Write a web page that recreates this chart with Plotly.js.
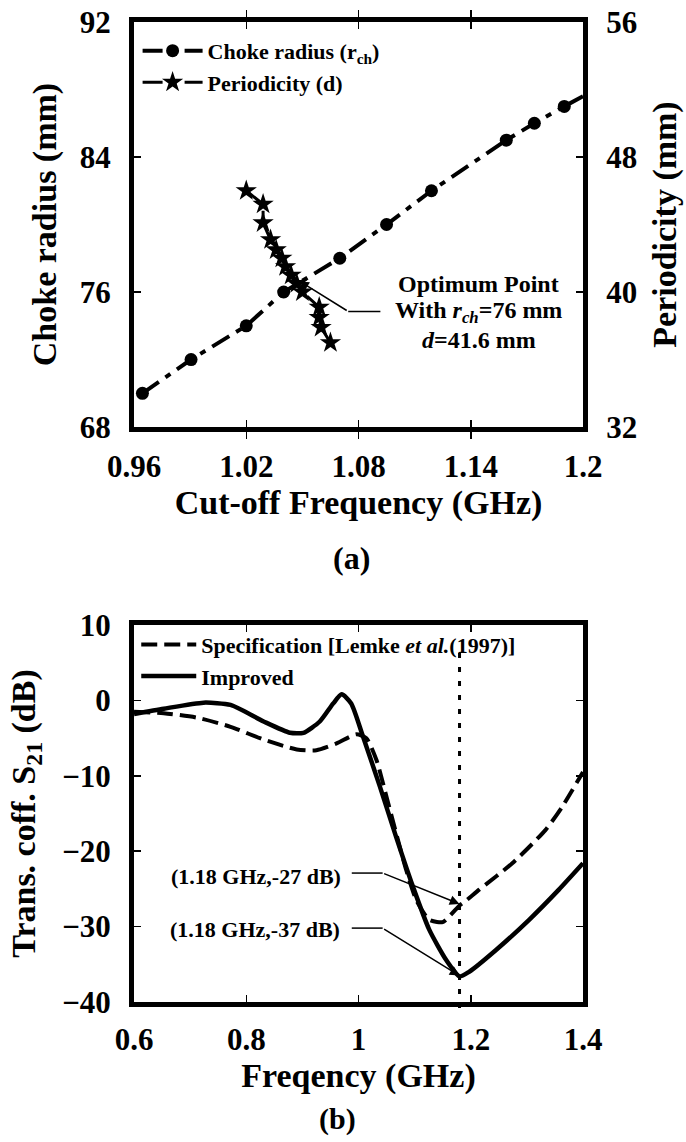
<!DOCTYPE html>
<html>
<head>
<meta charset="utf-8">
<script src="https://cdn.plot.ly/plotly-3.0.1.min.js"></script>
<style>html,body{margin:0;padding:0;background:#fff;}#chart{width:686px;height:1142px;}</style>
</head>
<body>
<div id="chart"></div>
<script>
// ---- Panel (a): cut-off frequency vs choke radius / periodicity ----
const chokeFreq   = [0.9645, 0.9905, 1.020, 1.040, 1.070, 1.095, 1.119, 1.159, 1.174, 1.190];
const chokeRadius = [70.0, 72.0, 74.0, 76.0, 78.0, 80.0, 82.0, 85.0, 86.0, 87.0];
// line continues past the last marker to the frame
const chokeTailFreq   = [1.190, 1.200];
const chokeTailRadius = [87.0, 87.6];

const periodFreq  = [1.020, 1.029, 1.029, 1.033, 1.036, 1.039, 1.041, 1.044, 1.047, 1.050, 1.059, 1.059, 1.060, 1.065];
const periodicity = [46.0, 45.2, 44.1, 43.1, 42.5, 42.0, 41.5, 41.0, 40.5, 40.0, 39.1, 38.5, 37.9, 37.0];

const xTicksA = [0.96, 1.02, 1.08, 1.14, 1.2];
const xTickTextA = ['0.96', '1.02', '1.08', '1.14', '1.2'];
const yTicksA = [68, 76, 84, 92];
const y2TicksA = [32, 40, 48, 56];

// ---- Panel (b): transmission coefficient S21 ----
const improvedFreq = [0.6, 0.653, 0.724, 0.772, 0.831, 0.878, 0.902, 0.931, 0.955, 0.970, 0.987, 1.008, 1.038, 1.067, 1.097, 1.126, 1.156, 1.18, 1.197, 1.245, 1.304, 1.357, 1.4];
const improvedS21  = [-1.8, -1.1, -0.3, -0.6, -2.8, -4.3, -4.3, -2.8, -0.4, 0.8, -0.4, -4.8, -11.4, -18.1, -24.7, -30.4, -34.4, -36.6, -36.0, -33.1, -29.1, -25.1, -21.6];

const specFreq = [0.6, 0.653, 0.713, 0.772, 0.831, 0.89, 0.925, 0.961, 0.996, 1.014, 1.032, 1.050, 1.067, 1.085, 1.103, 1.126, 1.15, 1.18, 1.191, 1.215, 1.274, 1.333, 1.363, 1.4];
const specS21  = [-1.5, -1.7, -2.3, -3.5, -5.2, -6.5, -6.6, -5.7, -4.5, -5.0, -7.9, -12.8, -17.6, -22.5, -26.5, -29.1, -29.4, -27.2, -26.6, -25.1, -21.6, -17.2, -14.1, -9.5];

const xTicksB = [0.6, 0.8, 1.0, 1.2, 1.4];
const xTickTextB = ['0.6', '0.8', '1', '1.2', '1.4'];
const yTicksB = [-40, -30, -20, -10, 0, 10];

const markFreq = 1.18;

const FONT = 'Liberation Serif, Times New Roman, Times, serif';
const DASHDOT = '20px,8px,6px,8px';

const traces = [
  {
    x: chokeTailFreq, y: chokeTailRadius, xaxis: 'x', yaxis: 'y',
    mode: 'lines', showlegend: false, hoverinfo: 'skip',
    line: {color: '#000', width: 4}
  },
  {
    x: chokeFreq, y: chokeRadius, xaxis: 'x', yaxis: 'y',
    mode: 'lines+markers', name: 'Choke radius (r<sub>ch</sub>)',
    line: {color: '#000', width: 4, dash: DASHDOT},
    marker: {symbol: 'circle', size: 13, color: '#000', opacity: 1, line: {width: 0}},
    legend: 'legend'
  },
  {
    x: periodFreq, y: periodicity, xaxis: 'x', yaxis: 'y2',
    mode: 'lines+markers', name: 'Periodicity (d)',
    line: {color: '#000', width: 3, dash: DASHDOT},
    marker: {symbol: 'star', size: 16, color: '#000', opacity: 1, line: {width: 0}},
    legend: 'legend'
  },
  {
    x: specFreq, y: specS21, xaxis: 'x2', yaxis: 'y3',
    mode: 'lines', name: 'Specification [Lemke <i>et al.</i>(1997)]',
    line: {color: '#000', width: 4, dash: '16px,7px', shape: 'spline', smoothing: 0.6},
    legend: 'legend2'
  },
  {
    x: improvedFreq, y: improvedS21, xaxis: 'x2', yaxis: 'y3',
    mode: 'lines', name: 'Improved',
    line: {color: '#000', width: 4.5, shape: 'spline', smoothing: 0.6},
    legend: 'legend2'
  }
];

const axisCommon = {
  showline: true, linecolor: '#000', linewidth: 5,
  ticks: 'inside', ticklen: 7, tickwidth: 1.5, tickcolor: '#000',
  showgrid: false, zeroline: false, fixedrange: true,
  tickfont: {size: 31, family: FONT, weight: 'bold', color: '#000'}
};
const titleFont = {size: 34, family: FONT, weight: 'bold', color: '#000'};

const layout = {
  width: 686, height: 1142,
  margin: {l: 134, r: 103, t: 22, b: 140},
  paper_bgcolor: '#fff', plot_bgcolor: '#fff',
  font: {family: FONT, color: '#000', weight: 'bold', size: 22},
  showlegend: true,
  xaxis: Object.assign({}, axisCommon, {
    domain: [0, 1], anchor: 'y', range: [0.96, 1.2],
    tickvals: xTicksA, ticktext: xTickTextA, mirror: 'allticks',
    ticklabelstandoff: 8,
    title: {text: 'Cut-off Frequency (GHz)', font: titleFont, standoff: 8}
  }),
  yaxis: Object.assign({}, axisCommon, {
    domain: [0.5867, 1], anchor: 'x', range: [68, 92],
    tickvals: yTicksA, mirror: 'allticks', ticklabelstandoff: 12,
    title: {text: 'Choke radius (mm)', font: titleFont, standoff: 14}
  }),
  yaxis2: Object.assign({}, axisCommon, {
    overlaying: 'y', side: 'right', anchor: 'x', range: [32, 56],
    tickvals: y2TicksA, ticklabelstandoff: 12,
    title: {text: 'Periodicity (mm)', font: titleFont, standoff: 18}
  }),
  xaxis2: Object.assign({}, axisCommon, {
    domain: [0, 1], anchor: 'y3', range: [0.6, 1.4],
    tickvals: xTicksB, ticktext: xTickTextB, mirror: 'allticks',
    ticklabelstandoff: 6,
    title: {text: 'Freqency (GHz)', font: titleFont, standoff: 6}
  }),
  yaxis3: Object.assign({}, axisCommon, {
    domain: [0, 0.3847], anchor: 'x2', range: [-40, 10],
    tickvals: yTicksB, mirror: 'allticks', ticklabelstandoff: 12,
    title: {text: 'Trans. coff. S<sub>21</sub> (dB)', font: titleFont, standoff: 18}
  }),
  legend: {
    x: 0.008, y: 0.992, xanchor: 'left', yanchor: 'top',
    bgcolor: 'rgba(0,0,0,0)', itemwidth: 60, tracegroupgap: 0,
    font: {size: 22, family: FONT, weight: 'bold', color: '#000'}
  },
  legend2: {
    x: 0.005, y: 0.386, xanchor: 'left', yanchor: 'top',
    bgcolor: 'rgba(0,0,0,0)', itemwidth: 55, tracegroupgap: 0,
    font: {size: 22, family: FONT, weight: 'bold', color: '#000'}
  },
  shapes: [
    // vertical dotted marker at 1.18 GHz
    {type: 'line', xref: 'x2', yref: 'paper', x0: markFreq, x1: markFreq, y0: -0.006, y1: 0.357,
     line: {color: '#000', width: 3, dash: '5px,9px'}},
    // leader lines (horizontal parts)
    {type: 'line', xref: 'x', yref: 'y', x0: 1.0745, x1: 1.0917, y0: 74.85, y1: 74.85, line: {color: '#000', width: 1.5}},
    {type: 'line', xref: 'x2', yref: 'y3', x0: 0.988, x1: 1.043, y0: -22.9, y1: -22.9, line: {color: '#000', width: 1.5}},
    {type: 'line', xref: 'x2', yref: 'y3', x0: 0.988, x1: 1.043, y0: -30.2, y1: -30.2, line: {color: '#000', width: 1.5}}
  ],
  annotations: [
    {xref: 'x', yref: 'y', x: 1.1443, y: 76.46, text: 'Optimum Point', showarrow: false, font: {size: 24}},
    {xref: 'x', yref: 'y', x: 1.1443, y: 74.8, text: 'With <i>r<sub>ch</sub></i>=76 mm', showarrow: false, font: {size: 24}},
    {xref: 'x', yref: 'y', x: 1.1443, y: 73.14, text: '<i>d</i>=41.6 mm', showarrow: false, font: {size: 24}},
    {xref: 'x', yref: 'y', axref: 'x', ayref: 'y', x: 1.0487, y: 76.63, ax: 1.0745, ay: 74.85,
     text: '', showarrow: true, arrowhead: 2, arrowsize: 1.2, arrowwidth: 1.5, arrowcolor: '#000', standoff: 0},

    {xref: 'x2', yref: 'y3', x: 0.972, y: -23.3, xanchor: 'right', text: '(1.18 GHz,-27 dB)', showarrow: false, font: {size: 22}},
    {xref: 'x2', yref: 'y3', x: 0.970, y: -30.45, xanchor: 'right', text: '(1.18 GHz,-37 dB)', showarrow: false, font: {size: 22}},
    {xref: 'x2', yref: 'y3', axref: 'x2', ayref: 'y3', x: 1.18, y: -27.0, ax: 1.043, ay: -22.9,
     text: '', showarrow: true, arrowhead: 2, arrowsize: 1.3, arrowwidth: 1.5, arrowcolor: '#000', standoff: 0},
    {xref: 'x2', yref: 'y3', axref: 'x2', ayref: 'y3', x: 1.18, y: -36.5, ax: 1.043, ay: -30.2,
     text: '', showarrow: true, arrowhead: 2, arrowsize: 1.3, arrowwidth: 1.5, arrowcolor: '#000', standoff: 0},

    {xref: 'paper', yref: 'paper', x: 0.4855, y: 0.453, xanchor: 'center', yanchor: 'middle',
     text: '(a)', showarrow: false, font: {size: 32}},
    {xref: 'paper', yref: 'paper', x: 0.454, y: -0.1195, xanchor: 'center', yanchor: 'middle',
     text: '(b)', showarrow: false, font: {size: 30}}
  ]
};

Plotly.newPlot('chart', traces, layout, {displayModeBar: false, staticPlot: true});
</script>
</body>
</html>
